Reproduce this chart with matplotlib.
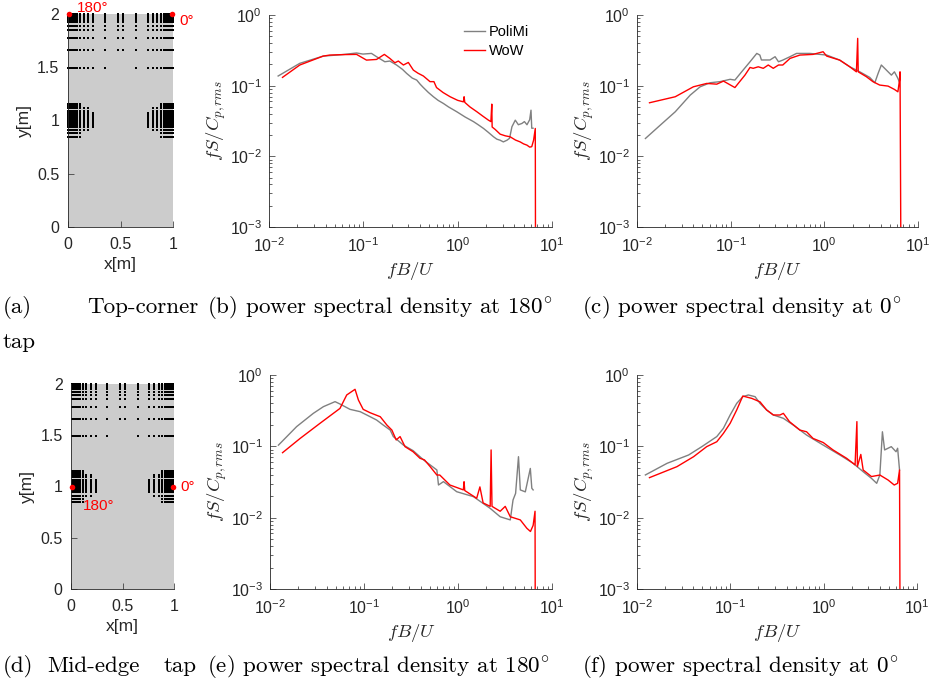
import numpy as np
import matplotlib
matplotlib.use('Agg')
import matplotlib.pyplot as plt

plt.rcParams['font.family'] = ['Liberation Sans', 'DejaVu Sans']
plt.rcParams['mathtext.fontset'] = 'custom'
plt.rcParams['mathtext.rm'] = 'Liberation Sans'
plt.rcParams['mathtext.it'] = 'Liberation Sans:italic'
plt.rcParams['mathtext.bf'] = 'Liberation Sans:bold'

# ---------------- data ----------------
# tap layout (m)
tap_cols = [0.005, 0.02, 0.035, 0.05, 0.07, 0.09, 0.12, 0.15, 0.19, 0.24, 0.35, 0.48,
            0.52, 0.65, 0.76, 0.81, 0.85, 0.88, 0.91, 0.93, 0.95, 0.965, 0.98, 0.995]
top_rows = [2.0, 1.985, 1.966, 1.948, 1.923, 1.892, 1.853, 1.776, 1.662]
row_149 = 1.494
row_149_skip = [0.48, 0.52]
mid_rows = [1.155, 1.136, 1.114, 1.092, 1.067, 1.052, 1.036, 1.02, 1.005, 0.99, 0.974,
            0.958, 0.942, 0.911, 0.88, 0.848]
mid_reach = [0.12, 0.12, 0.19, 0.19, 0.24, 0.24, 0.24, 0.24, 0.24, 0.24, 0.24,
             0.24, 0.24, 0.19, 0.12, 0.12]

# (b) top-corner, 180 deg
b_pol_f = [0.0125, 0.0212, 0.0375, 0.06, 0.0848, 0.099, 0.122, 0.138, 0.169, 0.191, 0.225, 0.26,
           0.288, 0.33, 0.368, 0.40, 0.433, 0.49, 0.553, 0.62, 0.706, 0.80, 0.98, 1.2, 1.47, 1.65,
           1.88, 2.1, 2.40, 2.6, 2.82, 3.05, 3.33, 3.55, 3.76, 4.08, 4.4, 4.80, 5.1, 5.43, 5.8,
           5.99, 6.1, 6.3]
b_pol_s = [0.137, 0.207, 0.262, 0.275, 0.29, 0.28, 0.286, 0.257, 0.218, 0.223, 0.196, 0.17,
           0.149, 0.128, 0.12, 0.105, 0.094, 0.08, 0.0697, 0.062, 0.056, 0.05, 0.0427, 0.036,
           0.031, 0.028, 0.0248, 0.022, 0.0189, 0.0175, 0.0169, 0.016, 0.0169, 0.018, 0.0262,
           0.0325, 0.028, 0.0292, 0.031, 0.028, 0.033, 0.045, 0.025, 0.025]
b_wow_f = [0.0139, 0.0212, 0.0375, 0.044, 0.06, 0.0848, 0.108, 0.138, 0.167, 0.191, 0.216, 0.235,
           0.266, 0.30, 0.339, 0.38, 0.433, 0.509, 0.56, 0.597, 0.70, 0.832, 1.0, 1.15, 1.17, 1.19,
           1.35, 1.6, 1.85, 2.12, 2.25, 2.3, 2.32, 2.5, 2.82, 3.2, 3.6, 4.1, 4.6, 5.0, 5.43, 5.8,
           6.1, 6.38, 6.65, 6.7]
b_wow_s = [0.131, 0.196, 0.262, 0.271, 0.275, 0.277, 0.23, 0.235, 0.277, 0.243, 0.211, 0.223,
           0.196, 0.213, 0.166, 0.15, 0.137, 0.114, 0.114, 0.094, 0.08, 0.0697, 0.062, 0.059,
           0.0697, 0.058, 0.05, 0.0427, 0.037, 0.0325, 0.031, 0.0548, 0.026, 0.024, 0.0206,
           0.0195, 0.0189, 0.017, 0.016, 0.015, 0.0144, 0.0135, 0.0137, 0.0169, 0.0248, 0.0001]

# (c) top-corner, 0 deg
c_pol_f = [0.0123, 0.0177, 0.0256, 0.037, 0.0472, 0.0604, 0.077, 0.0986, 0.111, 0.131, 0.161,
           0.19, 0.205, 0.213, 0.263, 0.298, 0.324, 0.36, 0.43, 0.505, 0.7, 1.06, 1.46, 1.87,
           2.39, 3.05, 3.46, 3.75, 4.06, 4.6, 5.2, 5.6, 6.1, 6.3]
c_pol_s = [0.0179, 0.0276, 0.0427, 0.0735, 0.0964, 0.11, 0.114, 0.123, 0.12, 0.157, 0.218,
           0.286, 0.271, 0.231, 0.231, 0.257, 0.218, 0.23, 0.257, 0.286, 0.286, 0.271, 0.23,
           0.185, 0.157, 0.131, 0.11, 0.149, 0.196, 0.166, 0.141, 0.157, 0.127, 0.114]
c_wow_f = [0.0136, 0.0256, 0.04, 0.0556, 0.071, 0.0838, 0.111, 0.142, 0.161, 0.174, 0.197,
           0.223, 0.252, 0.285, 0.324, 0.36, 0.43, 0.548, 0.757, 0.97, 1.06, 1.46, 1.87, 2.2,
           2.27, 2.3, 2.81, 3.3, 3.9, 4.79, 5.6, 6.1, 6.35, 6.43, 6.6]
c_wow_s = [0.0573, 0.0697, 0.0964, 0.1076, 0.105, 0.116, 0.094, 0.141, 0.181, 0.176, 0.185,
           0.176, 0.196, 0.176, 0.196, 0.196, 0.243, 0.271, 0.277, 0.302, 0.262, 0.23, 0.185,
           0.157, 0.467, 0.157, 0.134, 0.114, 0.102, 0.0986, 0.0885, 0.0819, 0.12, 0.157, 0.0001]

# (e) mid-edge, 180 deg
e_pol_f = [0.0123, 0.0192, 0.0289, 0.037, 0.0492, 0.0555, 0.071, 0.0911, 0.107, 0.136, 0.16,
           0.19, 0.205, 0.263, 0.333, 0.43, 0.596, 0.62, 0.70, 0.97, 1.46, 2.2, 2.81, 3.6, 3.85,
           4.1, 4.4, 4.6, 5.2, 5.88, 6.1, 6.3]
e_pol_s = [0.104, 0.189, 0.29, 0.36, 0.423, 0.392, 0.33, 0.306, 0.275, 0.234, 0.199, 0.169,
           0.137, 0.104, 0.087, 0.0645, 0.0466, 0.0287, 0.032, 0.0231, 0.0197, 0.0135, 0.0103,
           0.0093, 0.0177, 0.0219, 0.0716, 0.0245, 0.023, 0.049, 0.0258, 0.0245]
e_wow_f = [0.0136, 0.0209, 0.034, 0.0472, 0.0555, 0.0655, 0.0803, 0.0872, 0.098, 0.116, 0.149,
           0.175, 0.198, 0.22, 0.242, 0.273, 0.333, 0.394, 0.44, 0.505, 0.596, 0.64, 0.82, 1.14,
           1.16, 1.18, 1.58, 1.71, 1.85, 2.2, 2.25, 2.3, 2.81, 3.18, 3.6, 4.6, 5.4, 5.9, 6.3,
           6.6, 6.65]
e_wow_s = [0.0815, 0.129, 0.21, 0.29, 0.34, 0.525, 0.63, 0.446, 0.33, 0.296, 0.26, 0.199,
           0.169, 0.123, 0.137, 0.099, 0.084, 0.068, 0.0645, 0.052, 0.0396, 0.0396, 0.0287,
           0.0245, 0.0319, 0.024, 0.0187, 0.027, 0.0161, 0.0144, 0.089, 0.0144, 0.0123, 0.0144,
           0.0103, 0.0093, 0.0071, 0.0064, 0.0078, 0.0123, 0.0001]

# (f) mid-edge, 0 deg
f_pol_f = [0.0123, 0.021, 0.0357, 0.0495, 0.0716, 0.0843, 0.0995, 0.117, 0.136, 0.156, 0.184,
           0.208, 0.245, 0.289, 0.37, 0.472, 0.656, 0.99, 1.49, 2.07, 2.65, 3.25, 3.7, 4.0,
           4.26, 4.5, 5.3, 5.96, 6.2, 6.5]
f_pol_s = [0.0397, 0.0578, 0.0756, 0.099, 0.137, 0.179, 0.275, 0.40, 0.497, 0.525, 0.497,
           0.40, 0.323, 0.275, 0.247, 0.199, 0.144, 0.104, 0.0756, 0.0578, 0.0441, 0.0356,
           0.0303, 0.0397, 0.16, 0.089, 0.099, 0.084, 0.094, 0.0466]
f_wow_f = [0.0136, 0.0268, 0.0404, 0.0558, 0.0716, 0.0843, 0.0995, 0.117, 0.136, 0.17, 0.208,
           0.245, 0.289, 0.34, 0.37, 0.43, 0.556, 0.656, 0.77, 0.99, 1.26, 1.76, 2.17, 2.27,
           2.3, 2.5, 2.65, 3.25, 4.0, 4.9, 5.7, 6.2, 6.5, 6.6]
f_wow_s = [0.0364, 0.0519, 0.0716, 0.099, 0.116, 0.152, 0.21, 0.323, 0.507, 0.47, 0.42,
           0.323, 0.275, 0.275, 0.29, 0.222, 0.169, 0.16, 0.129, 0.113, 0.089, 0.068, 0.055,
           0.222, 0.052, 0.077, 0.0466, 0.0377, 0.0396, 0.0337, 0.0287, 0.0303, 0.0466, 0.0001]

series_labels = ['PoliMi', 'WoW']
captions_top = ["(b) power spectral density at $180^{\\!\\circ}$",
                "(c) power spectral density at $0^{\\!\\circ}$"]
caption_d_words = ["(d)", "Mid-edge", "tap"]
captions_bot = ["(e) power spectral density at $180^{\\!\\circ}$",
                "(f) power spectral density at $0^{\\!\\circ}$"]

# ---------------- figure ----------------
W, H = 933, 689
fig = plt.figure(figsize=(W / 100, H / 100), dpi=100)
ink = (0.15, 0.15, 0.15)
gray = (0.5, 0.5, 0.5)


def px_axes(x0, y0, x1, y1):
    return fig.add_axes([x0 / W, 1 - y1 / H, (x1 - x0) / W, (y1 - y0) / H])


def ftext(x, y, s, **kw):
    fig.text(x / W, 1 - y / H, s, **kw)


def style(ax, xpad, ypad):
    for s in ['top', 'right']:
        ax.spines[s].set_visible(False)
    for s in ['left', 'bottom']:
        ax.spines[s].set_color(ink)
        ax.spines[s].set_linewidth(0.6)
    ax.tick_params(which='both', direction='in', colors=ink, labelsize=11.5, width=0.5)
    ax.tick_params(which='major', length=4)
    ax.tick_params(which='minor', length=2)
    ax.tick_params(axis='x', pad=xpad)
    ax.tick_params(axis='y', pad=ypad)


def layout(ax):
    style(ax, 7, 6)
    ax.set_facecolor((0.8, 0.8, 0.8))
    xs, ys = [], []
    for r in top_rows:
        for c in tap_cols:
            xs.append(c); ys.append(r)
    for c in tap_cols:
        if c not in row_149_skip:
            xs.append(c); ys.append(row_149)
    for r, reach in zip(mid_rows, mid_reach):
        for c in tap_cols:
            if c <= reach or c >= 1 - reach:
                xs.append(c); ys.append(r)
    ax.plot(xs, ys, 's', color='k', ms=1.45, mew=0, clip_on=False)
    ax.set_xlim(0, 1)
    ax.set_ylim(0, 2)
    ax.set_xticks([0, 0.5, 1])
    ax.set_xticklabels(['0', '0.5', '1'])
    ax.set_yticks([0, 0.5, 1, 1.5, 2])
    ax.set_yticklabels(['0', '0.5', '1', '1.5', '2'])
    ax.set_xlabel('x[m]', fontsize=12.5, color=ink, labelpad=4)
    ax.set_ylabel('y[m]', fontsize=12.5, color=ink, labelpad=4)


def spectrum(ax, pf, ps, wf, ws, legend=False):
    style(ax, 7, 5)
    ax.plot(pf, ps, color=gray, lw=1.0, label=series_labels[0])
    ax.plot(wf, ws, color='red', lw=1.0, label=series_labels[1])
    ax.set_xscale('log')
    ax.set_yscale('log')
    ax.set_xlim(1e-2, 1e1)
    ax.set_ylim(1e-3, 1e0)
    ax.set_xlabel(r'$fB/U$', fontsize=13.5, color=ink, math_fontfamily='cm', labelpad=3)
    ax.set_ylabel(r'$fS/C_{p,rms}$', fontsize=13.5, color=ink, math_fontfamily='cm', labelpad=1)
    if legend:
        ax.legend(loc='upper right', frameon=False, fontsize=10.5, handlelength=1.45,
                  handletextpad=0.25, labelspacing=0.35, borderaxespad=0.3,
                  bbox_to_anchor=(0.955, 1.0))


ax_a = px_axes(67.7, 14, 173.3, 227)
layout(ax_a)
ax_a.plot([0.01, 0.99], [2.0, 2.0], 'o', color='red', ms=4, mew=0, clip_on=False, zorder=5)
ftext(77, 12, '180°', color='red', fontsize=11, ha='left', va='baseline')
ftext(179, 21, '0°', color='red', fontsize=11, ha='left', va='center')

ax_b = px_axes(269, 15, 552, 227)
spectrum(ax_b, b_pol_f, b_pol_s, b_wow_f, b_wow_s, legend=True)
ax_c = px_axes(637, 15, 918, 227)
spectrum(ax_c, c_pol_f, c_pol_s, c_wow_f, c_wow_s)

ax_d = px_axes(71, 384, 174, 589)
layout(ax_d)
ax_d.plot([0.01, 0.99], [1.0, 1.0], 'o', color='red', ms=4, mew=0, clip_on=False, zorder=5)
ftext(83, 506, '180°', color='red', fontsize=11, ha='left', va='center')
ftext(180, 487, '0°', color='red', fontsize=11, ha='left', va='center')

ax_e = px_axes(270, 375, 552, 589)
spectrum(ax_e, e_pol_f, e_pol_s, e_wow_f, e_wow_s)
ax_f = px_axes(637, 375, 917, 589)
spectrum(ax_f, f_pol_f, f_pol_s, f_wow_f, f_wow_s)

# captions
cap = dict(fontsize=16.6, family='cmr10', math_fontfamily='cm', color='k', va='center')
ftext(3, 307, '(a)', ha='left', **cap)
ftext(198, 307, 'Top-corner', ha='right', **cap)
ftext(3, 342, 'tap', ha='left', **cap)
ftext(207, 307, captions_top[0], ha='left', **cap)
ftext(582, 307, captions_top[1], ha='left', **cap)
ftext(3, 666, caption_d_words[0], ha='left', **cap)
ftext(47, 666, caption_d_words[1], ha='left', **cap)
ftext(197, 666, caption_d_words[2], ha='right', **cap)
ftext(207, 666, captions_bot[0], ha='left', **cap)
ftext(582, 666, captions_bot[1], ha='left', **cap)

fig.savefig('out.png', dpi=100)
